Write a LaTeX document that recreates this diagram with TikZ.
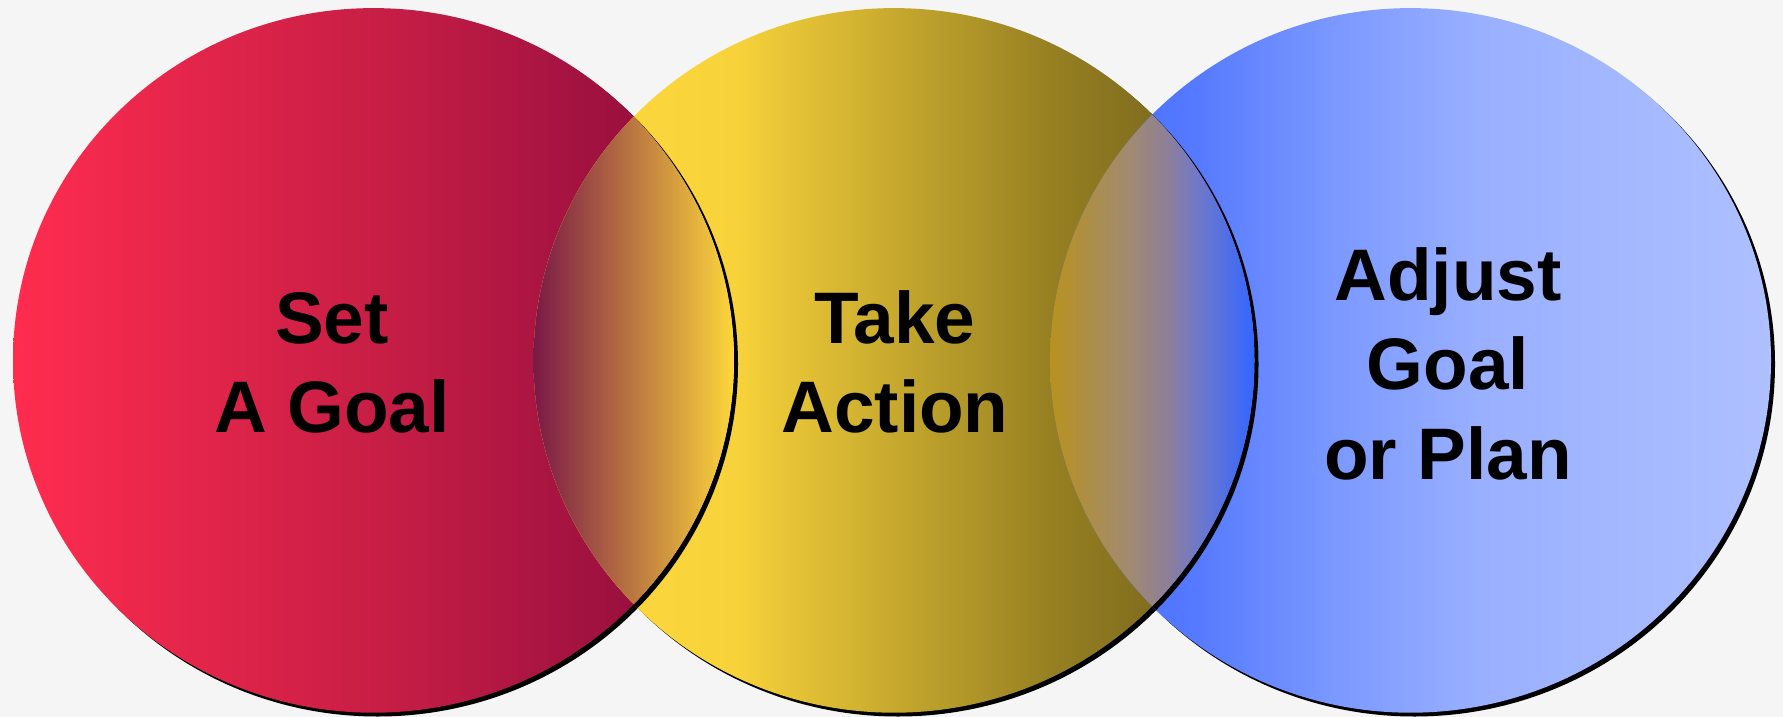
\documentclass[tikz,border=0pt]{standalone}
\usepackage{fontspec}
\setmainfont{Liberation Sans}
\definecolor{bgc}{HTML}{F5F5F5}
\definecolor{rA}{HTML}{FF2C4F}
\definecolor{rB}{HTML}{C41D45}
\definecolor{rC}{HTML}{870A3C}
\definecolor{yA}{HTML}{FFDA3C}
\definecolor{yB}{HTML}{F7D23A}
\definecolor{yC}{HTML}{978022}
\definecolor{yD}{HTML}{6A5A1A}
\definecolor{bA}{HTML}{3F6BFF}
\definecolor{bB}{HTML}{5579FF}
\definecolor{bC}{HTML}{7A98FF}
\definecolor{bD}{HTML}{9AB0FF}
\definecolor{bE}{HTML}{AEC0FF}
\definecolor{lA}{HTML}{7A1946}
\definecolor{lB}{HTML}{FDD73B}
\definecolor{mA}{HTML}{B8921E}
\definecolor{mB}{HTML}{A08A72}
\definecolor{mC}{HTML}{8F8094}
\definecolor{mD}{HTML}{6E78CC}
\definecolor{mE}{HTML}{3366FF}
\pgfdeclarehorizontalshading{redshade}{100bp}{color(0bp)=(rA); color(25bp)=(rA); color(51.8bp)=(rB); color(75bp)=(rC); color(100bp)=(rC)}
\pgfdeclarehorizontalshading{yelshade}{100bp}{color(0bp)=(yA); color(25bp)=(yA); color(39.1bp)=(yB); color(60.8bp)=(yC); color(75bp)=(yD); color(100bp)=(yD)}
\pgfdeclarehorizontalshading{blushade}{100bp}{color(0bp)=(bA); color(25bp)=(bA); color(34.9bp)=(bB); color(44.6bp)=(bC); color(55bp)=(bD); color(75bp)=(bE); color(100bp)=(bE)}
\pgfdeclarehorizontalshading{ybshade}{100bp}{color(0bp)=(mA); color(25bp)=(mA); color(44.6bp)=(mB); color(53bp)=(mC); color(61.5bp)=(mD); color(75bp)=(mE); color(100bp)=(mE)}
\tikzset{
  disc/.style={x radius=360.5pt, y radius=352.3pt},
  shadowfill/.style={fill=black},
  labeltext/.style={inner sep=0pt, anchor=base, font=\bfseries\fontsize{73}{89.5}\selectfont}
}
\begin{document}
\begin{tikzpicture}[x=1pt,y=-1pt]
\useasboundingbox (0,0) rectangle (1783,717);
\fill[bgc] (0,0) rectangle (1783,717);
\coordinate (cr) at (373.5,360.4);
\coordinate (cy) at (894,360.4);
\coordinate (cb) at (1410.5,360.4);
\coordinate (sr) at (377.5,364.2);
\coordinate (sy) at (898,364.2);
\coordinate (sb) at (1414.5,364.2);
% red
\fill[shadowfill] (sr) ellipse [disc];
\shade[shading=redshade] (cr) ellipse [disc];
% yellow
\fill[shadowfill] (sy) ellipse [disc];
\shade[shading=yelshade] (cy) ellipse [disc];
\begin{scope}
  \clip (cy) ellipse [disc];
  \fill[shadowfill, even odd rule] (sr) ellipse [disc] (cr) ellipse [disc];
\end{scope}
\begin{scope}
  \clip (cr) ellipse [disc];
  \clip (cy) ellipse [disc];
  \shade[left color=lA, right color=lB] (533.5,0) rectangle (734,717);
\end{scope}
% blue
\fill[shadowfill] (sb) ellipse [disc];
\shade[shading=blushade] (cb) ellipse [disc];
\begin{scope}
  \clip (cb) ellipse [disc];
  \fill[shadowfill, even odd rule] (sy) ellipse [disc] (cy) ellipse [disc];
\end{scope}
\begin{scope}
  \clip (cy) ellipse [disc];
  \clip (cb) ellipse [disc];
  \shade[shading=ybshade] (1050,0) rectangle (1254.5,717);
\end{scope}
% labels
\node[labeltext] (setgoal) at (332,343) {\begin{tabular}[t]{@{}c@{}}Set\\A Goal\end{tabular}};
\node[labeltext] (takeaction) at (895,343) {\begin{tabular}[t]{@{}c@{}}Take\\Action\end{tabular}};
\node[labeltext] (adjust) at (1448,300) {\begin{tabular}[t]{@{}c@{}}Adjust\\Goal\\or Plan\end{tabular}};
\end{tikzpicture}
\end{document}
